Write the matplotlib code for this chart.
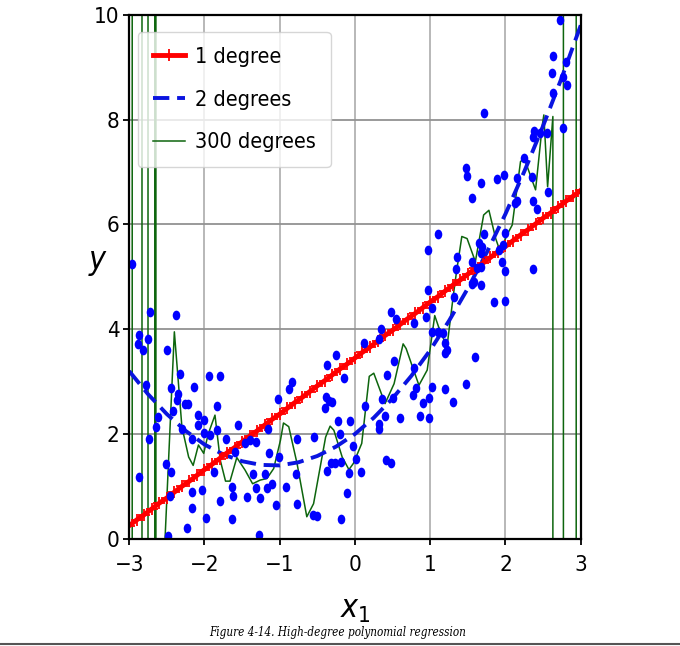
import numpy as np
import matplotlib
matplotlib.use("Agg")
import matplotlib.pyplot as plt
from matplotlib.markers import MarkerStyle
from matplotlib.transforms import Affine2D
from matplotlib.lines import Line2D

plt.rcParams['font.family'] = ['DejaVu Sans']
plt.rcParams['font.stretch'] = 'condensed'
plt.rcParams['mathtext.fontset'] = 'dejavusans'

# noisy training points
x_pts = [-2.73, -2.38, -2.87, -2.88, -2.82, -2.75, -2.50, -2.32, -1.94, -1.79,
         -2.78, -2.44, -2.14, -2.35, -2.36, -2.26, -2.22, -1.83, -1.02, -2.42,
         -2.62, -2.09, -2.00, -2.08, -2.65, -1.56, -2.30, -2.01, -1.92, -1.83,
         -1.16, -2.74, -2.16, -1.71, -1.46, -1.39, -1.31, -1.60, -1.14, -2.51,
         -2.44, -1.87, -1.36, -1.19, -2.87, -1.10, -1.17, -2.03, -2.16, -1.31,
         -1.64, -1.62, -1.43, -1.26, -1.80, -2.46, -2.16, -1.05, -1.98, -1.64,
         -2.23, -2.49, -1.27, -2.96,
         0.97, 0.48, 0.55, 0.79, 0.95, 0.34, 0.32, 0.12, -0.25, -0.37,
         -0.15, 0.52, 0.43, 0.78, 0.81, -0.83, -0.88, -0.38, -0.35, -0.30,
         -0.40, 0.36, 0.50, 0.77, 0.90, 0.98, 0.13, 0.86, 0.98, 0.60,
         0.40, 0.32, 0.32, -0.23, -0.06, -0.20, -0.55, -0.77, -0.03, -1.01,
         0.01, -0.32, -0.27, -0.18, 0.41, 0.48, -0.37, -0.08, 0.08, -0.78,
         -0.92, -0.10, -0.77, -0.56, -0.50, -0.18,
         1.02, 1.32, 1.85, 1.99, 1.03, 1.02, 1.10, 1.17, 1.20, 1.22,
         1.20, 1.59, 1.48, 1.20, 1.30, 1.55, 1.58, 1.67,
         2.72, 2.63, 2.81, 2.62, 2.77, 2.82, 2.63, 1.72, 2.76, 2.38,
         2.36, 2.46, 2.55, 2.24, 1.48, 1.49, 1.98, 1.89, 1.68, 2.15,
         2.35, 1.55, 2.57, 2.15, 2.13, 2.37, 2.42, 1.10, 0.97, 1.71,
         1.65, 1.69, 1.67, 2.00, 1.92, 1.97, 1.36, 1.34, 1.55, 1.96,
         1.99, 1.62, 1.68, 2.36]
y_pts = [4.33, 4.28, 3.89, 3.72, 3.61, 3.82, 3.60, 3.14, 3.11, 3.11,
         2.93, 2.87, 2.89, 2.77, 2.65, 2.58, 2.57, 2.54, 2.67, 2.44,
         2.33, 2.36, 2.26, 2.17, 2.14, 2.18, 2.09, 2.02, 1.99, 2.07,
         2.09, 1.91, 1.91, 1.90, 1.82, 1.88, 1.85, 1.66, 1.64, 1.42,
         1.27, 1.28, 1.23, 1.23, 1.18, 1.05, 0.96, 0.93, 0.89, 0.97,
         0.98, 0.82, 0.79, 0.78, 0.72, 0.81, 0.59, 0.64, 0.40, 0.37,
         0.21, 0.05, 0.07, 5.24,
         4.75, 4.32, 4.19, 4.11, 4.23, 4.00, 3.82, 3.73, 3.51, 3.31,
         3.07, 3.40, 3.12, 3.26, 2.88, 3.00, 2.86, 2.70, 2.63, 2.61,
         2.49, 2.66, 2.69, 2.75, 2.59, 2.69, 2.54, 2.35, 2.30, 2.30,
         2.35, 2.09, 2.20, 2.24, 2.25, 2.00, 1.94, 1.90, 1.77, 1.56,
         1.52, 1.45, 1.44, 1.46, 1.51, 1.44, 1.29, 1.25, 1.27, 1.23,
         0.98, 0.88, 0.67, 0.46, 0.43, 0.37,
         2.89, 4.62, 4.51, 4.54, 4.41, 3.95, 3.94, 3.93, 3.74, 3.61,
         3.54, 3.47, 2.96, 2.86, 2.61, 4.87, 4.91, 4.84,
         9.90, 9.22, 9.10, 8.89, 8.82, 8.66, 8.50, 8.12, 7.84, 7.78,
         7.66, 7.74, 7.74, 7.26, 7.08, 6.93, 6.94, 6.86, 6.80, 6.88,
         6.90, 6.51, 6.61, 6.45, 6.40, 6.45, 6.29, 5.82, 5.52, 5.81,
         5.64, 5.56, 5.45, 5.84, 5.51, 5.61, 5.37, 5.15, 5.29, 5.29,
         5.12, 5.16, 5.19, 5.14]

# degree 1 model, sampled every 0.1 from -3 to 3
x_lin = np.linspace(-3, 3, 61)
y_lin = [0.25, 0.36, 0.46, 0.57, 0.68, 0.78, 0.89, 1.00, 1.10, 1.21,
         1.32, 1.42, 1.53, 1.64, 1.74, 1.85, 1.96, 2.06, 2.17, 2.28,
         2.38, 2.49, 2.60, 2.70, 2.81, 2.92, 3.02, 3.13, 3.24, 3.34,
         3.45, 3.56, 3.66, 3.77, 3.88, 3.98, 4.09, 4.20, 4.30, 4.41,
         4.52, 4.62, 4.73, 4.84, 4.94, 5.05, 5.16, 5.26, 5.37, 5.48,
         5.58, 5.69, 5.80, 5.90, 6.01, 6.12, 6.22, 6.33, 6.44, 6.54,
         6.65]

# degree 2 model, sampled every 0.25
x_quad = np.linspace(-3, 3, 25)
y_quad = [3.20, 2.76, 2.38, 2.06, 1.80, 1.61, 1.48, 1.41, 1.40, 1.46,
          1.58, 1.76, 2.00, 2.31, 2.68, 3.11, 3.60, 4.16, 4.78, 5.46,
          6.20, 7.01, 7.88, 8.81, 9.80]

# degree 300 model (blows up near the edges)
x_big = [-3.00, -2.962, -2.958, -2.832, -2.828, -2.752, -2.748, -2.662, -2.658,
         -2.647, -2.643, -2.53, -2.40, -2.30, -2.21, -2.15, -2.08, -2.01, -1.95,
         -1.86, -1.79, -1.72, -1.66, -1.57, -1.46, -1.36, -1.26, -1.17, -1.08,
         -0.99, -0.95, -0.88, -0.77, -0.64, -0.55, -0.39, -0.33, -0.28, -0.17,
         -0.08, -0.02, 0.09, 0.19, 0.25, 0.40, 0.52, 0.64, 0.68, 0.85,
         0.96, 1.06, 1.11, 1.16, 1.22, 1.31, 1.35, 1.42, 1.49, 1.60,
         1.71, 1.78, 1.87, 1.93, 2.02, 2.09, 2.20, 2.25, 2.40, 2.49,
         2.51, 2.56, 2.63, 2.642, 2.768, 2.772, 2.938, 2.942, 3.00]
y_big = [1000, 1000, -1000, -1000, 1000, 1000, -1000, -1000, 1000,
         1000, -1000, -0.2, 3.95, 2.14, 1.56, 1.40, 1.79, 1.63, 2.00,
         2.36, 1.50, 1.10, 1.10, 1.55, 1.31, 1.05, 1.12, 1.15, 1.34,
         1.88, 2.21, 2.14, 1.44, 0.42, 0.67, 1.94, 2.15, 2.07, 1.56,
         1.32, 1.44, 1.82, 3.10, 3.16, 2.58, 2.96, 3.72, 3.63, 2.93,
         3.22, 4.26, 4.05, 3.89, 3.63, 4.68, 5.10, 5.77, 5.73, 5.29,
         6.18, 6.27, 5.73, 5.48, 5.80, 5.99, 7.20, 7.26, 6.66, 7.90,
         8.09, 6.72, 8.06, -1000, -1000, 1000, 1000, -1000, -1000]

fig = plt.figure(figsize=(6.8, 6.46), dpi=100)
ax = fig.add_axes([0.19, 0.166, 0.664, 0.811])

ax.plot(x_big, y_big, '-', color='#0d650d', linewidth=1.1, label='300 degrees')
ax.plot(x_quad, y_quad, '--', color='#0a14e0', linewidth=2.8, dashes=(4.2, 2.0),
        label='2 degrees')
ax.plot(x_lin, y_lin, '-', color='red', linewidth=3.5, marker='+',
        markersize=9, markeredgewidth=1.3, label='1 degree')

dot = MarkerStyle('o', transform=Affine2D().scale(0.78, 1.0))
ax.plot(x_pts, y_pts, linestyle='none', marker=dot, markersize=7,
        color='#0000ff', markeredgewidth=0)

ax.axis([-3, 3, 0, 10])
ax.set_xticks([-3, -2, -1, 0, 1, 2, 3])
ax.set_xticklabels(['\u22123', '\u22122', '\u22121', '0', '1', '2', '3'])
ax.set_yticks([0, 2, 4, 6, 8, 10])
ax.xaxis.grid(True, color='#b2b2b2', linewidth=1.3)
ax.yaxis.grid(True, color='#929292', linewidth=1.3)
ax.set_axisbelow(True)
ax.tick_params(labelsize=16, length=4, width=1.3, direction='out')
ax.tick_params(axis='x', pad=8)
ax.tick_params(axis='y', pad=3)
for s in ax.spines.values():
    s.set_linewidth(1.6)

ax.set_xlabel('$x_1$', fontsize=23)
ax.xaxis.set_label_coords(0.5, -0.105)
ax.set_ylabel('$y$', fontsize=23, rotation=0, va='center')
ax.yaxis.set_label_coords(-0.068, 0.527)

handles, labels = ax.get_legend_handles_labels()
order = [2, 1, 0]
ax.legend([handles[i] for i in order], [labels[i] for i in order],
          loc='upper left', bbox_to_anchor=(0.019, 0.9675), borderaxespad=0,
          fontsize=15.5, handlelength=1.5, handletextpad=0.45,
          labelspacing=1.05, borderpad=0.7)

fig.text(0.497, 0.021, 'Figure 4-14. High-degree polynomial regression',
         ha='center', va='center', fontsize=8.4, style='italic',
         family='DejaVu Serif')
fig.add_artist(Line2D([0, 1], [0.003, 0.003], color='#555555', linewidth=1.5))

fig.savefig('out.png', dpi=100)
